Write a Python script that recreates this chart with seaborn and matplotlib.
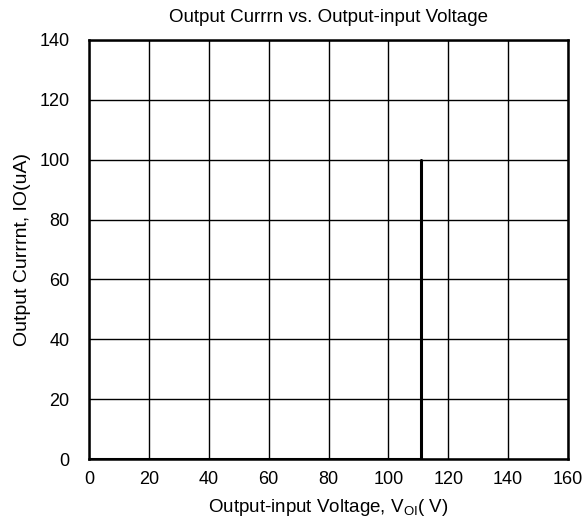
import matplotlib
matplotlib.use("Agg")
import matplotlib.pyplot as plt
import seaborn as sns
import pandas as pd

voltage = [0, 111, 111]
current = [0, 0, 100]
x_ticks = [0, 20, 40, 60, 80, 100, 120, 140, 160]
y_ticks = [0, 20, 40, 60, 80, 100, 120, 140]

sns.set_theme(style="white")
plt.rcParams['font.family'] = ['Liberation Sans', 'DejaVu Sans']

fig = plt.figure(figsize=(5.87, 5.25), dpi=100)
ax = fig.add_axes([89/587, 66/525, (568-89)/587, (459-40)/525])

df = pd.DataFrame({"V": voltage, "I": current})
sns.lineplot(data=df, x="V", y="I", ax=ax, color="black", linewidth=2.2, sort=False, estimator=None)

ax.set_xlim(0, 160)
ax.set_ylim(0, 140)
ax.set_xticks(x_ticks)
ax.set_yticks(y_ticks)
ax.tick_params(axis='x', labelsize=13, colors='black', length=0, pad=9)
ax.tick_params(axis='y', labelsize=13, colors='black', length=0, pad=14)
ax.grid(True, color='black', linewidth=1.0)
for s in ax.spines.values():
    s.set_color('black')
    s.set_linewidth(1.8)
ax.set_axisbelow(True)

ax.set_xlabel("Output-input Voltage, V$_{\\mathregular{OI}}$( V)", fontsize=13.5, color='black', labelpad=6)
ax.set_ylabel("Output Currrnt, IO(uA)", fontsize=14, color='black', labelpad=6)
ax.set_title("Output Currrn vs. Output-input Voltage", fontsize=13.5, color='black', pad=13)

fig.savefig("out.png", dpi=100)
